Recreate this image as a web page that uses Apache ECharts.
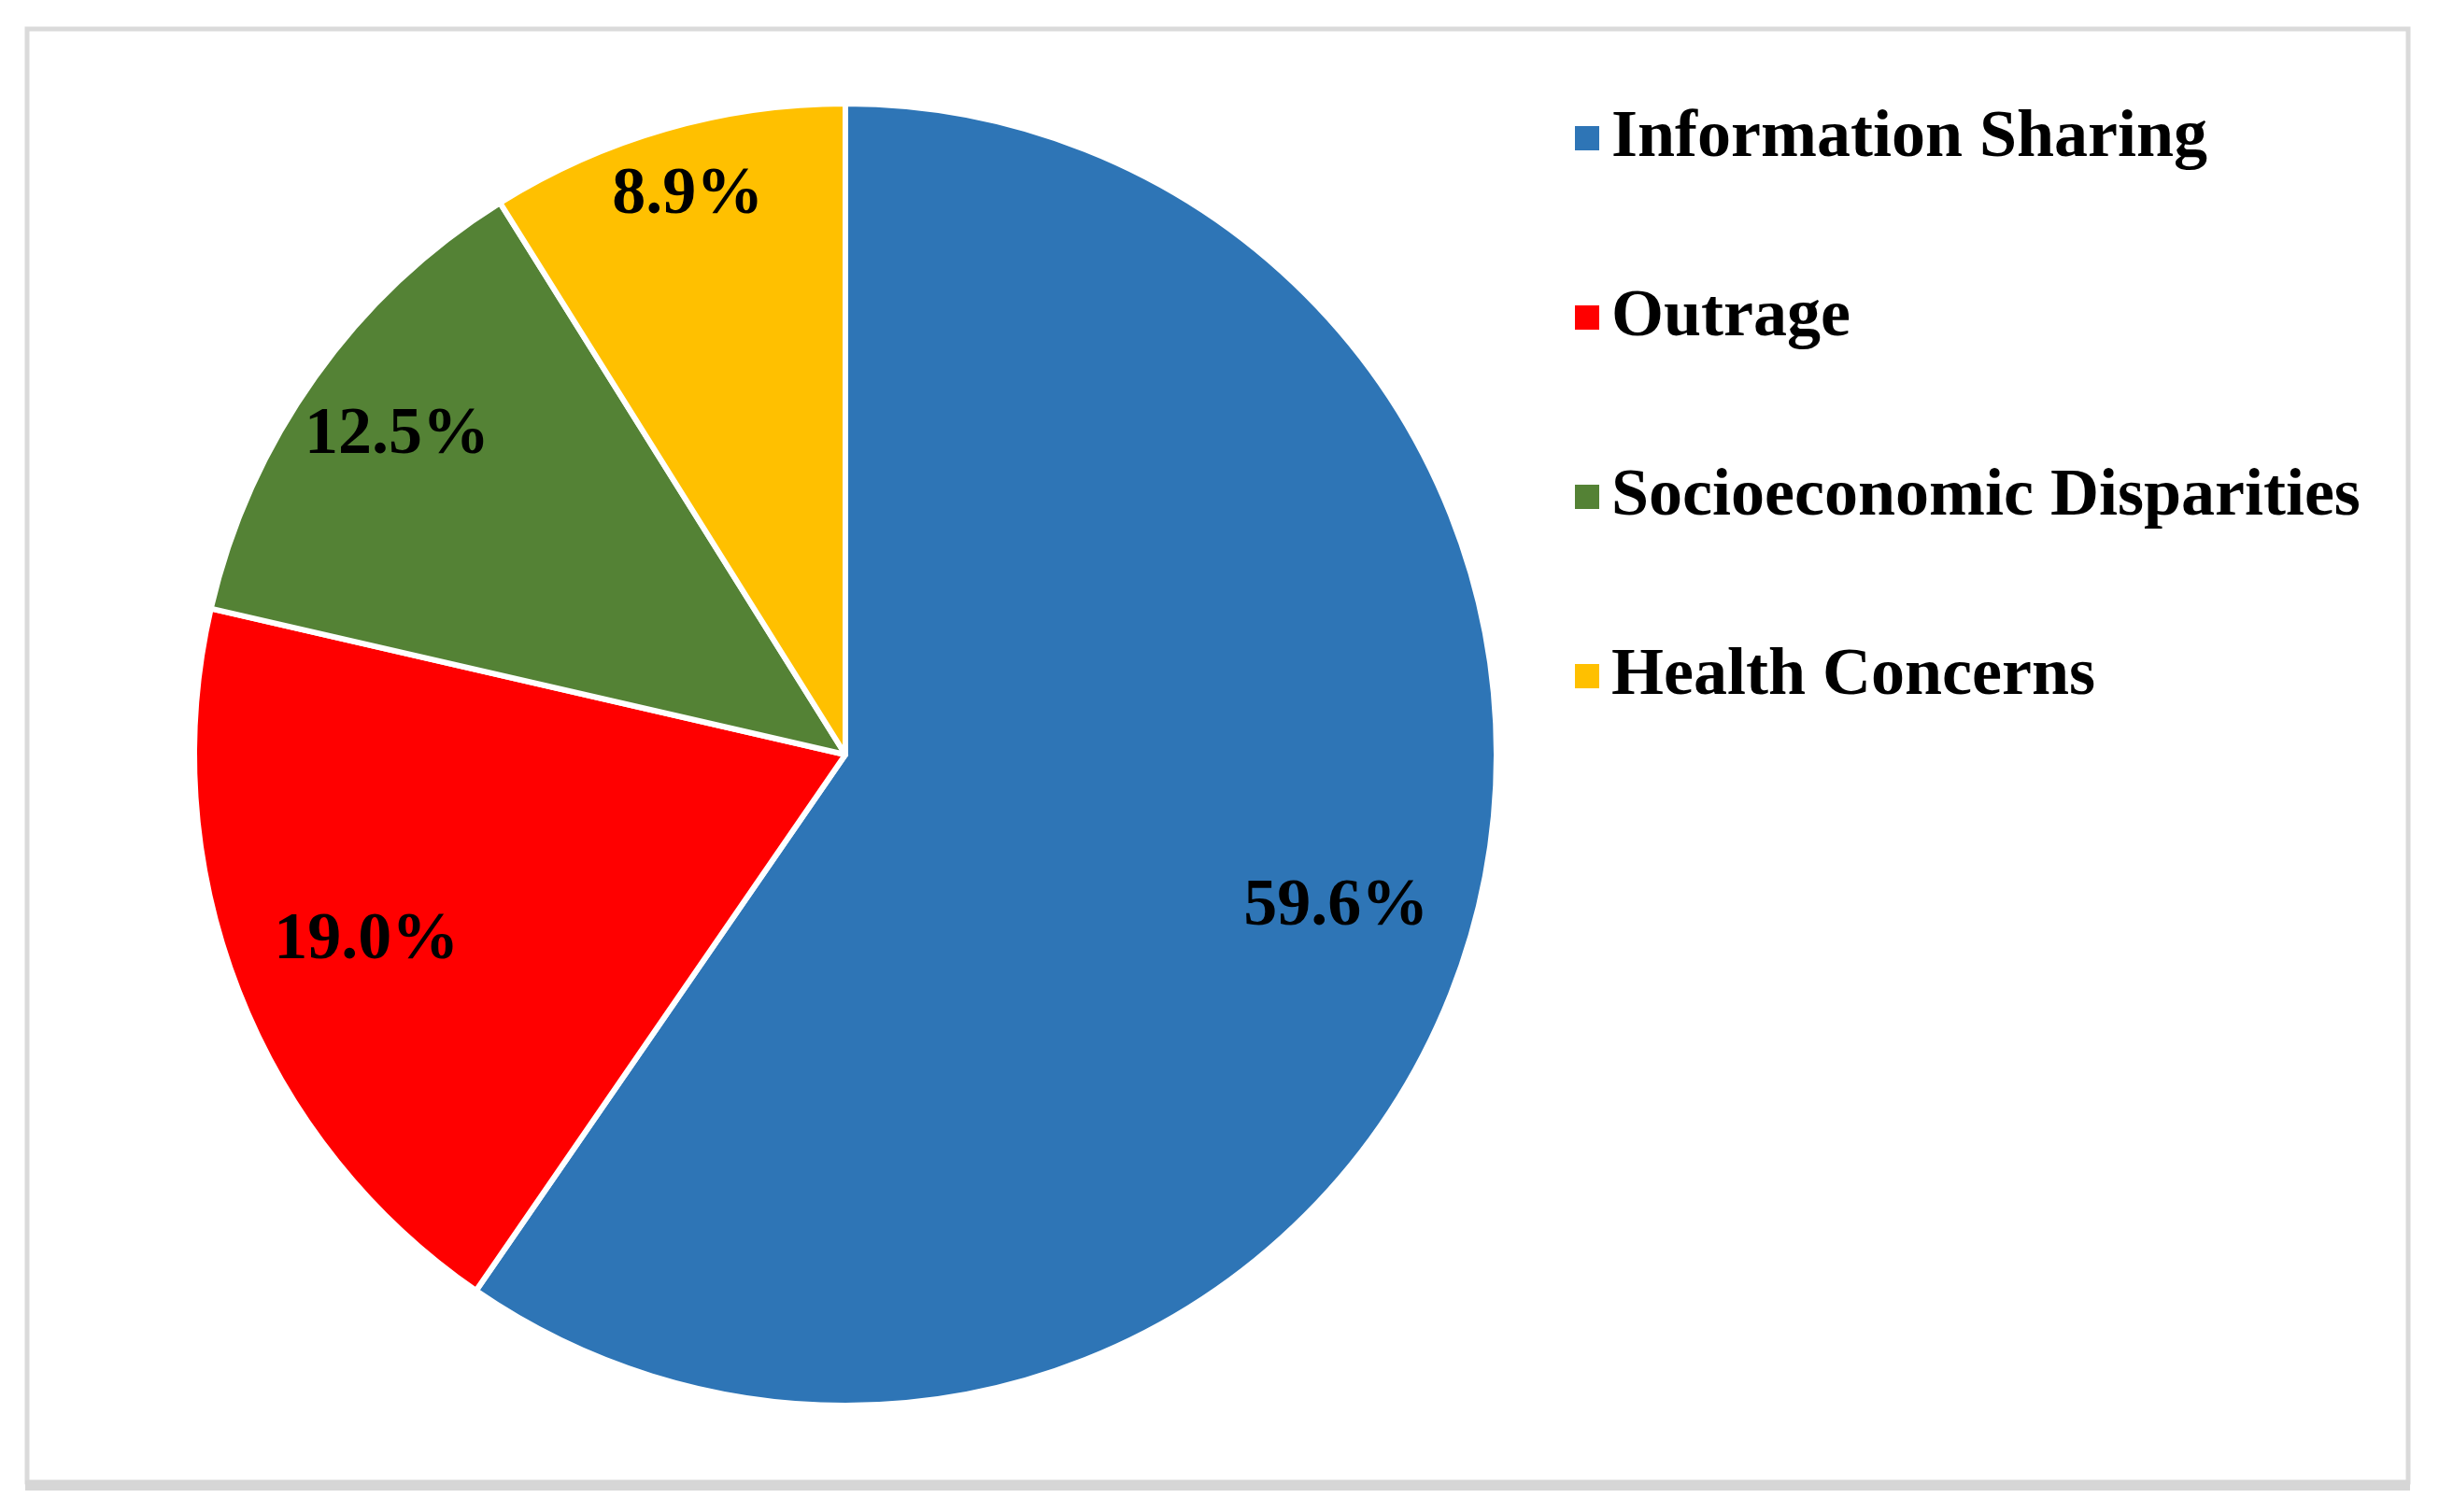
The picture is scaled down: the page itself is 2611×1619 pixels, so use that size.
<!DOCTYPE html>
<html>
<head>
<meta charset="utf-8">
<style>
  html, body { margin: 0; padding: 0; background: #ffffff; }
  #chart { width: 2611px; height: 1619px; }
</style>
<script src="https://cdn.jsdelivr.net/npm/echarts@6/dist/echarts.min.js"></script>
</head>
<body>
<div id="chart"></div>
<script>
const categories = ['Information Sharing', 'Outrage', 'Socioeconomic Disparities', 'Health Concerns'];
const values = [59.6, 19.0, 12.5, 8.9];
const colors = ['#2E75B6', '#FF0000', '#548235', '#FFC000'];
const labelOffsets = [[0, 0], [0, 0], [-32, -23], [-17, -70]];

const chart = echarts.init(document.getElementById('chart'));
const serif = '"Liberation Serif", "Times New Roman", serif';

const pieData = categories.map((name, i) => ({
  name: name,
  value: values[i],
  itemStyle: { color: colors[i] }
}));

const labelData = categories.map((name, i) => ({
  name: name,
  value: values[i],
  label: { offset: labelOffsets[i] }
}));

chart.setOption({
  backgroundColor: '#ffffff',
  animation: false,
  graphic: [
    {
      type: 'rect',
      shape: { x: 29, y: 31, width: 2549, height: 1556 },
      style: { fill: 'none', stroke: '#dadada', lineWidth: 5 },
      z: 0
    },
    {
      type: 'rect',
      shape: { x: 27, y: 1585, width: 2553, height: 11 },
      style: { fill: '#d6d6d6' },
      z: 0
    }
  ],
  legend: {
    orient: 'vertical',
    left: 1679,
    top: 103,
    icon: 'rect',
    itemWidth: 28,
    itemHeight: 28,
    itemGap: 112,
    data: categories,
    selectedMode: false,
    textStyle: {
      fontFamily: serif,
      fontWeight: 'bold',
      fontSize: 72,
      lineHeight: 80,
      color: '#000000',
      padding: [0, 0, 0, 7]
    }
  },
  series: [
    {
      type: 'pie',
      center: [905, 808],
      radius: [0, 697],
      startAngle: 90,
      clockwise: true,
      silent: true,
      data: pieData,
      itemStyle: { borderColor: '#ffffff', borderWidth: 6 },
      label: { show: false },
      labelLine: { show: false },
      emphasis: { disabled: true }
    },
    {
      type: 'pie',
      center: [905, 808],
      radius: [397, 697],
      startAngle: 90,
      clockwise: true,
      silent: true,
      data: labelData,
      itemStyle: { color: 'rgba(0,0,0,0)', borderWidth: 0 },
      label: {
        show: true,
        position: 'inside',
        formatter: (p) => p.value.toFixed(1) + '%',
        fontFamily: serif,
        fontWeight: 'bold',
        fontSize: 72,
        color: '#000000'
      },
      labelLine: { show: false },
      emphasis: { disabled: true }
    }
  ]
});
</script>
</body>
</html>
